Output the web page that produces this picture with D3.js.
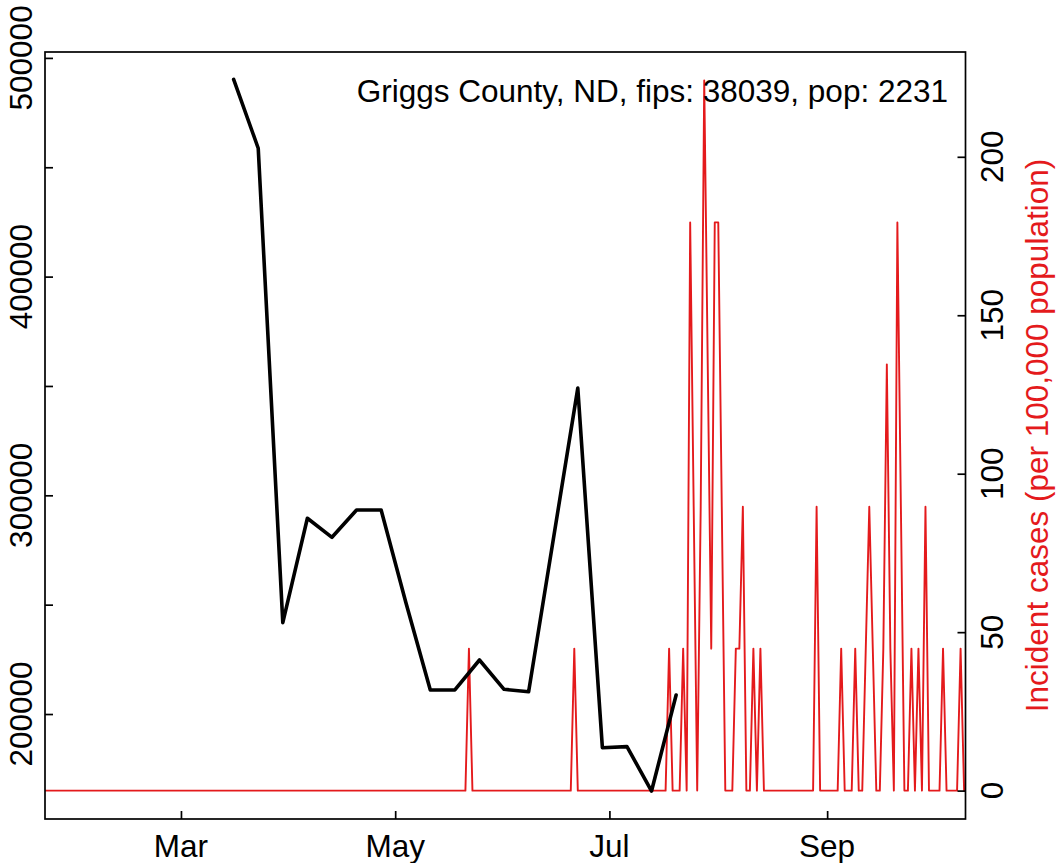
<!DOCTYPE html>
<html>
<head>
<meta charset="utf-8">
<script src="https://cdn.jsdelivr.net/npm/d3@7"></script>
<style>
  html, body { margin: 0; padding: 0; background: #ffffff; }
  svg { display: block; }
  text { font-family: "Liberation Sans", Arial, Helvetica, sans-serif; }
</style>
</head>
<body>
<svg id="chart" width="1064" height="863"></svg>
<script>
// ---------------- data ----------------
const titleText = "Griggs County, ND, fips: 38039, pop: 2231";
const rightAxisTitle = "Incident cases (per 100,000 population)";

// daily incident cases per 100,000 population, starting at startDate
const startDate = "2020-01-22";
const incidence = [
  0,0,0,0,0,0,0,0,0,0,
  0,0,0,0,0,0,0,0,0,0,
  0,0,0,0,0,0,0,0,0,0,
  0,0,0,0,0,0,0,0,0,0,
  0,0,0,0,0,0,0,0,0,0,
  0,0,0,0,0,0,0,0,0,0,
  0,0,0,0,0,0,0,0,0,0,
  0,0,0,0,0,0,0,0,0,0,
  0,0,0,0,0,0,0,0,0,0,
  0,0,0,0,0,0,0,0,0,0,
  0,0,0,0,0,0,0,0,0,0,
  0,0,0,0,0,0,0,0,0,0,
  0,44.8,0,0,0,0,0,0,0,0,
  0,0,0,0,0,0,0,0,0,0,
  0,0,0,0,0,0,0,0,0,0,
  0,44.8,0,0,0,0,0,0,0,0,
  0,0,0,0,0,0,0,0,0,0,
  0,0,0,0,0,0,0,0,44.8,0,
  0,0,44.8,0,179.3,89.6,0,89.6,224.1,134.5,
  44.8,179.3,179.3,89.6,0,0,0,44.8,44.8,89.6,
  0,0,44.8,0,44.8,0,0,0,0,0,
  0,0,0,0,0,0,0,0,0,0,
  89.6,0,0,0,0,0,0,44.8,0,0,
  0,44.8,0,0,44.8,89.6,44.8,0,0,44.8,
  134.5,44.8,0,179.3,89.6,0,0,44.8,0,44.8,
  0,89.6,0,0,0,0,44.8,0,0,0,
  0,44.8,0
];

// weekly black series (left axis)
const trendDates = [
  "2020-03-16","2020-03-23","2020-03-30","2020-04-06","2020-04-13","2020-04-20",
  "2020-04-27","2020-05-04","2020-05-11","2020-05-18","2020-05-25","2020-06-01",
  "2020-06-08","2020-06-22","2020-06-29","2020-07-06","2020-07-13","2020-07-20"
];
const trendValues = [
  490200, 458700, 241800, 289500, 280800, 293300,
  293300, 251200, 211000, 211000, 224700, 211300,
  210200, 349000, 184600, 185100, 164800, 208700
];

const monthTickDates = ["2020-03-01","2020-05-01","2020-07-01","2020-09-01"];
const monthTickLabels = ["Mar","May","Jul","Sep"];
const leftTicks = [200000, 250000, 300000, 350000, 400000, 450000, 500000];
const leftLabelled = [200000, 300000, 400000, 500000];
const rightTicks = [0, 50, 100, 150, 200];

// ---------------- layout ----------------
const box = { left: 45, right: 965.5, top: 52, bottom: 819 };
const FONT = 31.5;
const RED = "#E41A1C";

const parse = d3.utcParse("%Y-%m-%d");
const t0 = parse(startDate);
const redData = incidence.map((v, i) => ({ date: d3.utcDay.offset(t0, i), value: v }));
const blackData = trendDates.map((d, i) => ({ date: parse(d), value: trendValues[i] }));

const x = d3.scaleUtc()
  .domain([t0, d3.utcDay.offset(t0, 262)])
  .range([44, 964.1]);
const yL = d3.scaleLinear().domain([152000, 502700]).range([box.bottom, box.top]);
const yR = d3.scaleLinear().domain([-8.96, 233.07]).range([box.bottom, box.top]);

const svg = d3.select("#chart");

svg.append("defs").append("clipPath").attr("id", "plotclip")
  .append("rect")
  .attr("x", box.left).attr("y", box.top)
  .attr("width", box.right - box.left).attr("height", box.bottom - box.top);

const plot = svg.append("g").attr("clip-path", "url(#plotclip)");

// red incidence line
plot.append("path")
  .datum(redData)
  .attr("fill", "none")
  .attr("stroke", RED)
  .attr("stroke-width", 1.9)
  .attr("stroke-linejoin", "round")
  .attr("stroke-linecap", "round")
  .attr("d", d3.line().x(d => x(d.date)).y(d => yR(d.value)));

// black trend line
plot.append("path")
  .datum(blackData)
  .attr("fill", "none")
  .attr("stroke", "#000")
  .attr("stroke-width", 3.6)
  .attr("stroke-linejoin", "round")
  .attr("stroke-linecap", "round")
  .attr("d", d3.line().x(d => x(d.date)).y(d => yL(d.value)));

// box
svg.append("rect")
  .attr("x", box.left).attr("y", box.top)
  .attr("width", box.right - box.left).attr("height", box.bottom - box.top)
  .attr("fill", "none").attr("stroke", "#000").attr("stroke-width", 1.7);

// axes (inward ticks)
function styleAxis(g) {
  g.select(".domain").remove();
  g.selectAll(".tick text").remove();
  g.selectAll(".tick line").attr("stroke", "#000").attr("stroke-width", 1.7);
}

svg.append("g")
  .attr("transform", `translate(${box.left},0)`)
  .call(d3.axisLeft(yL).tickValues(leftTicks).tickSizeInner(-8).tickSizeOuter(0))
  .call(styleAxis);

svg.append("g")
  .attr("transform", `translate(${box.right},0)`)
  .call(d3.axisRight(yR).tickValues(rightTicks).tickSizeInner(-8).tickSizeOuter(0))
  .call(styleAxis);

const monthDates = monthTickDates.map(parse);
svg.append("g")
  .attr("transform", `translate(0,${box.bottom})`)
  .call(d3.axisBottom(x).tickValues(monthDates).tickSizeInner(-8).tickSizeOuter(0))
  .call(styleAxis);

// left labels (rotated)
svg.append("g").selectAll("text")
  .data(leftLabelled)
  .join("text")
  .attr("transform", d => `translate(32,${yL(d)}) rotate(-90)`)
  .attr("text-anchor", "middle")
  .attr("font-size", FONT)
  .attr("fill", "#000")
  .text(d => d3.format("d")(d));

// right labels (rotated)
svg.append("g").selectAll("text")
  .data(rightTicks)
  .join("text")
  .attr("transform", d => `translate(1003,${yR(d)}) rotate(-90)`)
  .attr("text-anchor", "middle")
  .attr("font-size", FONT)
  .attr("fill", "#000")
  .text(d => d);

// bottom labels
svg.append("g").selectAll("text")
  .data(monthDates)
  .join("text")
  .attr("x", d => x(d))
  .attr("y", 857)
  .attr("text-anchor", "middle")
  .attr("font-size", FONT)
  .attr("fill", "#000")
  .text((d, i) => monthTickLabels[i]);

// right axis title
svg.append("text")
  .attr("transform", `translate(1048,${(box.top + box.bottom) / 2}) rotate(-90)`)
  .attr("text-anchor", "middle")
  .attr("font-size", FONT)
  .attr("fill", RED)
  .text(rightAxisTitle);

// county title
svg.append("text")
  .attr("x", 948)
  .attr("y", 102)
  .attr("text-anchor", "end")
  .attr("font-size", FONT)
  .attr("fill", "#000")
  .text(titleText);
</script>
</body>
</html>
